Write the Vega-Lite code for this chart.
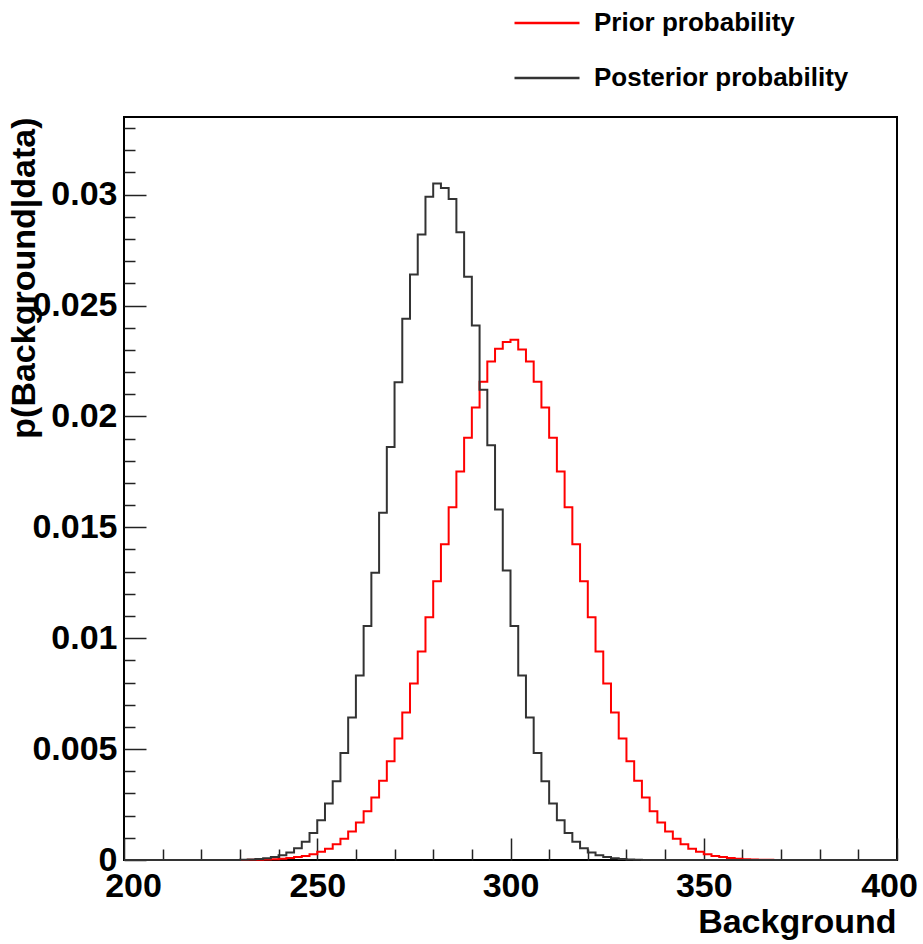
{
"$schema": "https://vega.github.io/schema/vega-lite/v6.json",
"width": 773, "height": 743,
"autosize": {"type": "none"},
"padding": {"left": 124, "top": 117, "right": 26, "bottom": 84},
"background": "white",
"config": {"view": {"stroke": "#000000", "strokeWidth": 2}, "font": "Liberation Sans"},
"data": {"values": [
{"s":"Prior probability","x":200,"p":0},{"s":"Prior probability","x":202,"p":0},{"s":"Prior probability","x":204,"p":0},{"s":"Prior probability","x":206,"p":0},{"s":"Prior probability","x":208,"p":0},{"s":"Prior probability","x":210,"p":0},{"s":"Prior probability","x":212,"p":0},{"s":"Prior probability","x":214,"p":0},{"s":"Prior probability","x":216,"p":0},{"s":"Prior probability","x":218,"p":0},{"s":"Prior probability","x":220,"p":0},{"s":"Prior probability","x":222,"p":0},{"s":"Prior probability","x":224,"p":0},{"s":"Prior probability","x":226,"p":0},{"s":"Prior probability","x":228,"p":0},{"s":"Prior probability","x":230,"p":0},
{"s":"Prior probability","x":232,"p":0.00001},{"s":"Prior probability","x":234,"p":0.000016},{"s":"Prior probability","x":236,"p":0.000024},{"s":"Prior probability","x":238,"p":0.000038},{"s":"Prior probability","x":240,"p":0.000057},{"s":"Prior probability","x":242,"p":0.000085},{"s":"Prior probability","x":244,"p":0.00013},{"s":"Prior probability","x":246,"p":0.00018},{"s":"Prior probability","x":248,"p":0.00026},{"s":"Prior probability","x":250,"p":0.00037},{"s":"Prior probability","x":252,"p":0.00051},{"s":"Prior probability","x":254,"p":0.00071},{"s":"Prior probability","x":256,"p":0.00096},{"s":"Prior probability","x":258,"p":0.00128},{"s":"Prior probability","x":260,"p":0.00169},{"s":"Prior probability","x":262,"p":0.0022},{"s":"Prior probability","x":264,"p":0.00282},{"s":"Prior probability","x":266,"p":0.00357},{"s":"Prior probability","x":268,"p":0.00445},{"s":"Prior probability","x":270,"p":0.00548},{"s":"Prior probability","x":272,"p":0.00665},{"s":"Prior probability","x":274,"p":0.00796},{"s":"Prior probability","x":276,"p":0.0094},{"s":"Prior probability","x":278,"p":0.01094},{"s":"Prior probability","x":280,"p":0.01257},{"s":"Prior probability","x":282,"p":0.01424},{"s":"Prior probability","x":284,"p":0.0159},{"s":"Prior probability","x":286,"p":0.01752},{"s":"Prior probability","x":288,"p":0.01904},{"s":"Prior probability","x":290,"p":0.0204},{"s":"Prior probability","x":292,"p":0.02156},{"s":"Prior probability","x":294,"p":0.02248},{"s":"Prior probability","x":296,"p":0.02305},{"s":"Prior probability","x":298,"p":0.02336},{"s":"Prior probability","x":300,"p":0.02346},{"s":"Prior probability","x":302,"p":0.02302},{"s":"Prior probability","x":304,"p":0.02248},{"s":"Prior probability","x":306,"p":0.02156},{"s":"Prior probability","x":308,"p":0.0204},{"s":"Prior probability","x":310,"p":0.01904},{"s":"Prior probability","x":312,"p":0.01752},{"s":"Prior probability","x":314,"p":0.0159},{"s":"Prior probability","x":316,"p":0.01424},{"s":"Prior probability","x":318,"p":0.01257},{"s":"Prior probability","x":320,"p":0.01094},{"s":"Prior probability","x":322,"p":0.0094},{"s":"Prior probability","x":324,"p":0.00796},{"s":"Prior probability","x":326,"p":0.00665},{"s":"Prior probability","x":328,"p":0.00548},{"s":"Prior probability","x":330,"p":0.00445},{"s":"Prior probability","x":332,"p":0.00357},{"s":"Prior probability","x":334,"p":0.00282},{"s":"Prior probability","x":336,"p":0.0022},{"s":"Prior probability","x":338,"p":0.00169},{"s":"Prior probability","x":340,"p":0.00128},{"s":"Prior probability","x":342,"p":0.00096},{"s":"Prior probability","x":344,"p":0.00071},{"s":"Prior probability","x":346,"p":0.00051},{"s":"Prior probability","x":348,"p":0.00037},{"s":"Prior probability","x":350,"p":0.00026},{"s":"Prior probability","x":352,"p":0.00018},{"s":"Prior probability","x":354,"p":0.00013},{"s":"Prior probability","x":356,"p":0.000085},{"s":"Prior probability","x":358,"p":0.000057},{"s":"Prior probability","x":360,"p":0.000038},{"s":"Prior probability","x":362,"p":0.000024},{"s":"Prior probability","x":364,"p":0.000016},{"s":"Prior probability","x":366,"p":0.00001},
{"s":"Prior probability","x":368,"p":0},{"s":"Prior probability","x":370,"p":0},{"s":"Prior probability","x":372,"p":0},{"s":"Prior probability","x":374,"p":0},{"s":"Prior probability","x":376,"p":0},{"s":"Prior probability","x":378,"p":0},{"s":"Prior probability","x":380,"p":0},{"s":"Prior probability","x":382,"p":0},{"s":"Prior probability","x":384,"p":0},{"s":"Prior probability","x":386,"p":0},{"s":"Prior probability","x":388,"p":0},{"s":"Prior probability","x":390,"p":0},{"s":"Prior probability","x":392,"p":0},{"s":"Prior probability","x":394,"p":0},{"s":"Prior probability","x":396,"p":0},{"s":"Prior probability","x":398,"p":0},{"s":"Prior probability","x":400,"p":0},
{"s":"Posterior probability","x":200,"p":0},{"s":"Posterior probability","x":202,"p":0},{"s":"Posterior probability","x":204,"p":0},{"s":"Posterior probability","x":206,"p":0},{"s":"Posterior probability","x":208,"p":0},{"s":"Posterior probability","x":210,"p":0},{"s":"Posterior probability","x":212,"p":0},{"s":"Posterior probability","x":214,"p":0},{"s":"Posterior probability","x":216,"p":0},{"s":"Posterior probability","x":218,"p":0},{"s":"Posterior probability","x":220,"p":0},{"s":"Posterior probability","x":222,"p":0},{"s":"Posterior probability","x":224,"p":0},{"s":"Posterior probability","x":226,"p":0},{"s":"Posterior probability","x":228,"p":0},
{"s":"Posterior probability","x":230,"p":0.000014},{"s":"Posterior probability","x":232,"p":0.000025},{"s":"Posterior probability","x":234,"p":0.000045},{"s":"Posterior probability","x":236,"p":0.000077},{"s":"Posterior probability","x":238,"p":0.00013},{"s":"Posterior probability","x":240,"p":0.00021},{"s":"Posterior probability","x":242,"p":0.00034},{"s":"Posterior probability","x":244,"p":0.00053},{"s":"Posterior probability","x":246,"p":0.00082},{"s":"Posterior probability","x":248,"p":0.00122},{"s":"Posterior probability","x":250,"p":0.00179},{"s":"Posterior probability","x":252,"p":0.00255},{"s":"Posterior probability","x":254,"p":0.00355},{"s":"Posterior probability","x":256,"p":0.00483},{"s":"Posterior probability","x":258,"p":0.00642},{"s":"Posterior probability","x":260,"p":0.00832},{"s":"Posterior probability","x":262,"p":0.01055},{"s":"Posterior probability","x":264,"p":0.01295},{"s":"Posterior probability","x":266,"p":0.01566},{"s":"Posterior probability","x":268,"p":0.01862},{"s":"Posterior probability","x":270,"p":0.02154},{"s":"Posterior probability","x":272,"p":0.0244},{"s":"Posterior probability","x":274,"p":0.0264},{"s":"Posterior probability","x":276,"p":0.0282},{"s":"Posterior probability","x":278,"p":0.0299},{"s":"Posterior probability","x":280,"p":0.0305},{"s":"Posterior probability","x":282,"p":0.0303},{"s":"Posterior probability","x":284,"p":0.0298},{"s":"Posterior probability","x":286,"p":0.0283},{"s":"Posterior probability","x":288,"p":0.0263},{"s":"Posterior probability","x":290,"p":0.0241},{"s":"Posterior probability","x":292,"p":0.0212},{"s":"Posterior probability","x":294,"p":0.0187},{"s":"Posterior probability","x":296,"p":0.0158},{"s":"Posterior probability","x":298,"p":0.01305},{"s":"Posterior probability","x":300,"p":0.01055},{"s":"Posterior probability","x":302,"p":0.00832},{"s":"Posterior probability","x":304,"p":0.00642},{"s":"Posterior probability","x":306,"p":0.00483},{"s":"Posterior probability","x":308,"p":0.00355},{"s":"Posterior probability","x":310,"p":0.00255},{"s":"Posterior probability","x":312,"p":0.00179},{"s":"Posterior probability","x":314,"p":0.00122},{"s":"Posterior probability","x":316,"p":0.00082},{"s":"Posterior probability","x":318,"p":0.00053},{"s":"Posterior probability","x":320,"p":0.00034},{"s":"Posterior probability","x":322,"p":0.00021},{"s":"Posterior probability","x":324,"p":0.00013},{"s":"Posterior probability","x":326,"p":0.000077},{"s":"Posterior probability","x":328,"p":0.000045},{"s":"Posterior probability","x":330,"p":0.000025},{"s":"Posterior probability","x":332,"p":0.000014},
{"s":"Posterior probability","x":334,"p":0},{"s":"Posterior probability","x":336,"p":0},{"s":"Posterior probability","x":338,"p":0},{"s":"Posterior probability","x":340,"p":0},{"s":"Posterior probability","x":342,"p":0},{"s":"Posterior probability","x":344,"p":0},{"s":"Posterior probability","x":346,"p":0},{"s":"Posterior probability","x":348,"p":0},{"s":"Posterior probability","x":350,"p":0},{"s":"Posterior probability","x":352,"p":0},{"s":"Posterior probability","x":354,"p":0},{"s":"Posterior probability","x":356,"p":0},{"s":"Posterior probability","x":358,"p":0},{"s":"Posterior probability","x":360,"p":0},{"s":"Posterior probability","x":362,"p":0},{"s":"Posterior probability","x":364,"p":0},{"s":"Posterior probability","x":366,"p":0},{"s":"Posterior probability","x":368,"p":0},{"s":"Posterior probability","x":370,"p":0},{"s":"Posterior probability","x":372,"p":0},{"s":"Posterior probability","x":374,"p":0},{"s":"Posterior probability","x":376,"p":0},{"s":"Posterior probability","x":378,"p":0},{"s":"Posterior probability","x":380,"p":0},{"s":"Posterior probability","x":382,"p":0},{"s":"Posterior probability","x":384,"p":0},{"s":"Posterior probability","x":386,"p":0},{"s":"Posterior probability","x":388,"p":0},{"s":"Posterior probability","x":390,"p":0},{"s":"Posterior probability","x":392,"p":0},{"s":"Posterior probability","x":394,"p":0},{"s":"Posterior probability","x":396,"p":0},{"s":"Posterior probability","x":398,"p":0},{"s":"Posterior probability","x":400,"p":0}
]},
"layer": [
{
"transform": [{"filter": "datum.s === 'Prior probability'"}],
"mark": {"type": "line", "interpolate": "step-after", "strokeWidth": 2},
"encoding": {
"x": {"field": "x", "type": "quantitative", "scale": {"domain": [200, 400], "nice": false, "zero": false},
 "axis": {"orient": "bottom", "values": [250, 300, 350], "ticks": false, "domain": false, "grid": false, "labelFont": "Liberation Sans", "labelFontSize": 34, "labelFontWeight": "bold", "labelColor": "#000000", "labelPadding": 9, "labelFlush": false, "labelAlign": "center", "labelOverlap": false,
 "title": "Background", "titleFont": "Liberation Sans", "titleFontSize": 34, "titleFontWeight": "bold", "titleColor": "#000000", "titleAnchor": "end", "titleAlign": "right", "titleBaseline": "alphabetic", "titleX": 772, "titleY": 72}},
"y": {"field": "p", "type": "quantitative", "scale": {"domain": [0, 0.0335], "nice": false, "zero": true},
 "axis": {"orient": "left", "values": [0, 0.005, 0.01, 0.015, 0.02, 0.025, 0.03], "labelExpr": "format(datum.value, '~g')", "ticks": false, "domain": false, "grid": false, "labelFont": "Liberation Sans", "labelFontSize": 34, "labelFontWeight": "bold", "labelColor": "#000000", "labelPadding": 7, "labelFlush": false, "labelOverlap": false,
 "title": "p(Background|data)", "titleFont": "Liberation Sans", "titleFontSize": 34, "titleFontWeight": "bold", "titleColor": "#000000", "titleAngle": 270, "titleAnchor": "end", "titleAlign": "right", "titleBaseline": "alphabetic", "titleX": -90, "titleY": 0}},
"color": {"field": "s", "type": "nominal", "scale": {"domain": ["Prior probability", "Posterior probability"], "range": ["#ff0000", "#333333"]},
 "legend": {"orient": "none", "legendX": 389, "legendY": -128, "title": null, "symbolType": "stroke", "symbolSize": 4225, "symbolStrokeWidth": 2.5, "labelFont": "Liberation Sans", "labelFontSize": 26, "labelFontWeight": "bold", "labelColor": "#000000", "labelOffset": 13, "labelLimit": 500, "rowPadding": 8, "padding": 0}}
}
},
{
"transform": [{"filter": "datum.s === 'Posterior probability'"}],
"mark": {"type": "line", "interpolate": "step-after", "strokeWidth": 2},
"encoding": {
"x": {"field": "x", "type": "quantitative", "axis": {"orient": "bottom", "values": [200], "ticks": false, "domain": false, "grid": false, "labelFont": "Liberation Sans", "labelFontSize": 34, "labelFontWeight": "bold", "labelColor": "#000000", "labelPadding": 9, "labelFlush": false, "labelAlign": "center", "labelOffset": 9, "labelOverlap": false, "title": null}},
"y": {"field": "p", "type": "quantitative", "axis": null},
"color": {"field": "s", "type": "nominal"}
}
},
{
"mark": {"type": "point", "opacity": 0},
"encoding": {
"x": {"field": "x", "type": "quantitative", "axis": {"orient": "bottom", "values": [400], "ticks": false, "domain": false, "grid": false, "labelFont": "Liberation Sans", "labelFontSize": 34, "labelFontWeight": "bold", "labelColor": "#000000", "labelPadding": 9, "labelFlush": false, "labelAlign": "center", "labelOffset": -8, "labelOverlap": false, "title": null}},
"y": {"field": "p", "type": "quantitative", "axis": null}
}
},
{
"mark": {"type": "point", "opacity": 0},
"encoding": {
"x": {"field": "x", "type": "quantitative", "axis": {"orient": "bottom", "values": [200, 250, 300, 350, 400], "labels": false, "domain": false, "grid": false, "ticks": true, "tickSize": -22, "tickColor": "#222222", "tickWidth": 1.5, "title": null}},
"y": {"field": "p", "type": "quantitative", "axis": {"orient": "left", "values": [0, 0.005, 0.01, 0.015, 0.02, 0.025, 0.03], "labels": false, "domain": false, "grid": false, "ticks": true, "tickSize": -22, "tickColor": "#222222", "tickWidth": 1.5, "title": null}}
}
},
{
"mark": {"type": "point", "opacity": 0},
"encoding": {
"x": {"field": "x", "type": "quantitative", "axis": {"orient": "bottom", "values": [210, 220, 230, 240, 260, 270, 280, 290, 310, 320, 330, 340, 360, 370, 380, 390], "labels": false, "domain": false, "grid": false, "ticks": true, "tickSize": -11, "tickColor": "#222222", "tickWidth": 1.5, "title": null}},
"y": {"field": "p", "type": "quantitative", "axis": {"orient": "left", "values": [0.001, 0.002, 0.003, 0.004, 0.006, 0.007, 0.008, 0.009, 0.011, 0.012, 0.013, 0.014, 0.016, 0.017, 0.018, 0.019, 0.021, 0.022, 0.023, 0.024, 0.026, 0.027, 0.028, 0.029, 0.031, 0.032, 0.033], "labels": false, "domain": false, "grid": false, "ticks": true, "tickSize": -11, "tickColor": "#222222", "tickWidth": 1.5, "title": null}}
}
}
],
"resolve": {"axis": {"x": "independent", "y": "independent"}}
}
